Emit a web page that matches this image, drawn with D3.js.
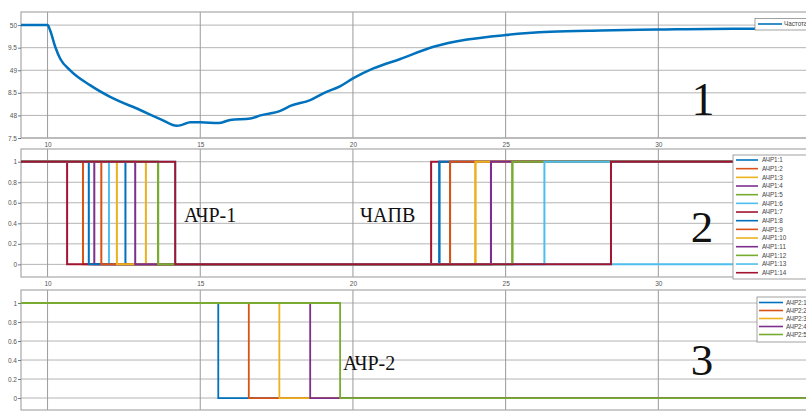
<!DOCTYPE html>
<html><head><meta charset="utf-8">
<script src="https://cdn.jsdelivr.net/npm/d3@7"></script>
<style>body{margin:0;background:#fff}svg{display:block}</style>
</head><body>
<script>
// ---------- data ----------
const xTicks = [10, 15, 20, 25, 30];
const freqT = [9.13, 10.0, 10.08, 10.25, 10.41, 10.74, 11.39, 12.05, 13.03, 13.69, 14.23, 14.4, 14.67, 15.0, 15.6, 15.98, 16.64, 16.97, 17.62, 17.95, 18.6, 19.03, 19.59, 20.0, 20.67, 21.55, 22.64, 23.74, 25.0, 26.47, 28.1, 29.97, 32.46, 35.0];
const freqV = [50, 50, 49.89, 49.52, 49.26, 49.0, 48.67, 48.41, 48.12, 47.92, 47.77, 47.79, 47.85, 47.85, 47.83, 47.90, 47.93, 48.0, 48.10, 48.21, 48.34, 48.49, 48.65, 48.82, 49.04, 49.25, 49.52, 49.68, 49.78, 49.85, 49.88, 49.90, 49.92, 49.92];
const freqTickVals = [50, 49.5, 49, 48.5, 48, 47.5];
const freqTickLabels = ["50", "9.5", "49", "8.5", "48", "7.5"];
const freqLegend = ["Частота"];

const ach1Names = ["АЧР1:1","АЧР1:2","АЧР1:3","АЧР1:4","АЧР1:5","АЧР1:6","АЧР1:7","АЧР1:8","АЧР1:9","АЧР1:10","АЧР1:11","АЧР1:12","АЧР1:13","АЧР1:14"];
const ach1Trip = [12.55, 11.16, 13.22, 11.53, 13.62, 12.01, 10.64, 11.35, 11.76, 12.27, 12.87, 13.62, 14.18, 14.18];
const ach1Reclose = [22.83, 23.18, 24.01, 24.52, 25.22, null, 22.56, 22.83, 23.18, 24.01, 24.52, 25.22, 26.27, 28.45];

const ach2Names = ["АЧР2:1","АЧР2:2","АЧР2:3","АЧР2:4","АЧР2:5"];
const ach2Trip = [15.59, 16.59, 17.59, 18.60, 19.58];
const ach2Reclose = [null, null, null, null, null];

const stepTickVals = [0, 0.2, 0.4, 0.6, 0.8, 1];
const stepTickLabels = ["0", "0.2", "0.4", "0.6", "0.8", "1"];

const matlab = ["#0072BD","#D95319","#EDB120","#7E2F8E","#77AC30","#4DBEEE","#A2142F"];

// ---------- layout ----------
const W = 806, H = 412;
const svg = d3.select("body").append("svg").attr("width", W).attr("height", H)
  .style("font-family", "'Liberation Sans', Arial, sans-serif");

const x = d3.scaleLinear().domain([9.13, 35]).range([21, 811]);
const tMin = 9.13, tMax = 35;

const panels = [
  {top: 12, bottom: 138, y: d3.scaleLinear().domain([47.5, 50.29]).range([138, 12]), tv: freqTickVals, tl: freqTickLabels, xl: true},
  {top: 149, bottom: 277, y: d3.scaleLinear().domain([-0.123, 1.124]).range([277, 149]), tv: stepTickVals, tl: stepTickLabels, xl: true},
  {top: 290, bottom: 410, y: d3.scaleLinear().domain([-0.126, 1.137]).range([410, 290]), tv: stepTickVals, tl: stepTickLabels, xl: false}
];

panels.forEach((p, i) => {
  const g = svg.append("g");
  g.selectAll(".hg").data(p.tv).join("line")
    .attr("x1", 21).attr("x2", 811)
    .attr("y1", d => p.y(d)).attr("y2", d => p.y(d))
    .attr("stroke", "#b4b4b4").attr("stroke-width", 1);
  g.selectAll(".vg").data(xTicks).join("line")
    .attr("x1", d => x(d)).attr("x2", d => x(d))
    .attr("y1", p.top).attr("y2", p.bottom)
    .attr("stroke", "#9a9a9a").attr("stroke-width", 1);
  g.append("rect").attr("x", 21).attr("y", p.top).attr("width", 800).attr("height", p.bottom - p.top)
    .attr("fill", "none").attr("stroke", "#a8a8a8").attr("stroke-width", 1.2);
  const ya = d3.axisLeft(p.y).tickValues(p.tv).tickSize(3).tickFormat((d, k) => p.tl[k]);
  const yg = g.append("g").attr("transform", "translate(21,0)").call(ya);
  yg.select(".domain").remove();
  yg.selectAll("line").attr("stroke", "#777");
  yg.selectAll("text").attr("font-size", 6.5).attr("fill", "#555").attr("x", -4);
  if (p.xl) {
    const xa = d3.axisBottom(x).tickValues(xTicks).tickSize(0).tickFormat(d3.format("d"));
    const xg = g.append("g").attr("transform", `translate(0,${p.bottom})`).call(xa);
    xg.select(".domain").remove();
    xg.selectAll("text").attr("font-size", 6.5).attr("fill", "#555").attr("dy", "0.9em");
  }
});

panels.forEach((p, i) => {
  svg.append("clipPath").attr("id", "clip" + i).append("rect")
    .attr("x", 21).attr("y", p.top).attr("width", 800).attr("height", p.bottom - p.top);
});

// ---------- panel 1: frequency ----------
const freqLine = d3.line().x((d, i) => x(freqT[i])).y(d => panels[0].y(d)).curve(d3.curveMonotoneX);
svg.append("path").datum(freqV).attr("d", freqLine)
  .attr("fill", "none").attr("stroke", "#0072BD").attr("stroke-width", 2.5)
  .attr("clip-path", "url(#clip0)");

// ---------- step series ----------
function stepPts(trip, rec) {
  const pts = [[tMin, 1], [trip, 0]];
  if (rec != null) pts.push([rec, 1]);
  pts.push([tMax, pts[pts.length - 1][1]]);
  return pts;
}
function drawSteps(pIdx, trips, recs, width) {
  const p = panels[pIdx];
  const line = d3.line().x(d => x(d[0])).y(d => p.y(d[1])).curve(d3.curveStepAfter);
  svg.append("g").attr("clip-path", `url(#clip${pIdx})`)
    .selectAll("path").data(trips.map((t, k) => ({pts: stepPts(t, recs[k]), c: matlab[k % 7]})))
    .join("path").attr("d", d => line(d.pts))
    .attr("fill", "none").attr("stroke", d => d.c).attr("stroke-width", width)
    .attr("stroke-linejoin", "miter");
}
drawSteps(1, ach1Trip, ach1Reclose, 2);
drawSteps(2, ach2Trip, ach2Reclose, 1.8);

// ---------- legends ----------
function legend(names, bx, by, bh, lineX1, lineX2, textX, y0, dy) {
  const g = svg.append("g");
  g.append("rect").attr("x", bx).attr("y", by).attr("width", 80).attr("height", bh)
    .attr("fill", "#fff").attr("stroke", "#8a8a8a").attr("stroke-width", 0.8);
  names.forEach((n, k) => {
    const yy = y0 + k * dy;
    g.append("line").attr("x1", lineX1).attr("x2", lineX2).attr("y1", yy).attr("y2", yy)
      .attr("stroke", matlab[k % 7]).attr("stroke-width", 1.6);
    g.append("text").attr("x", textX).attr("y", yy).attr("dy", "0.35em")
      .attr("font-size", 6.3).attr("fill", "#444").text(n);
  });
}
legend(freqLegend, 755, 18.5, 11.5, 758, 782, 784, 24, 0);
legend(ach1Names, 733, 155, 124, 736, 758, 762, 160, 8.67);
legend(ach2Names, 757, 297, 45, 759, 783, 786, 302.5, 8);

// ---------- annotations ----------
const serif = "'Liberation Serif', 'Times New Roman', serif";
const ann = [
  {t: "1", x: 703, y: 115, s: 46, a: "middle"},
  {t: "2", x: 702, y: 242, s: 45, a: "middle"},
  {t: "3", x: 702, y: 375, s: 45, a: "middle"},
  {t: "АЧР-1", x: 184, y: 222, s: 20, a: "start"},
  {t: "ЧАПВ", x: 360, y: 222, s: 20, a: "start"},
  {t: "АЧР-2", x: 343, y: 370, s: 20, a: "start"}
];
svg.selectAll(".ann").data(ann).join("text")
  .attr("x", d => d.x).attr("y", d => d.y).attr("text-anchor", d => d.a)
  .attr("font-family", serif).attr("font-size", d => d.s).attr("fill", "#111")
  .text(d => d.t);
</script>
</body></html>
